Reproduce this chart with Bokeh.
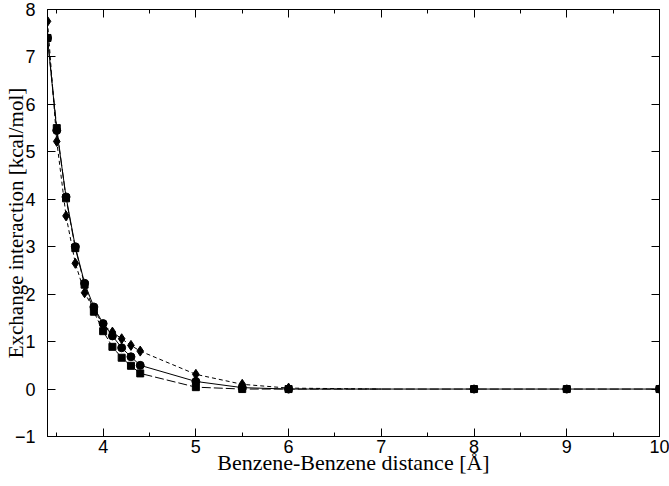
from bokeh.plotting import figure
from bokeh.models import Range1d, LinearAxis, SingleIntervalTicker, CustomJSTickFormatter
from bokeh.embed import file_html
from bokeh.resources import INLINE

# Benzene-Benzene distance [Å]
x_sq = [3.4, 3.5, 3.6, 3.7, 3.8, 3.9, 4.0, 4.1, 4.2, 4.3, 4.4, 5.0, 5.5, 6.0, 8.0, 9.0, 10.0]
y_sq = [7.40, 5.50, 4.02, 2.97, 2.20, 1.63, 1.22, 0.89, 0.66, 0.49, 0.33, 0.04, 0.00, 0.00, 0.00, 0.00, 0.00]

x_ci = [3.4, 3.5, 3.6, 3.7, 3.8, 3.9, 4.0, 4.1, 4.2, 4.3, 4.4, 5.0, 5.5, 6.0, 8.0, 9.0, 10.0]
y_ci = [7.40, 5.45, 4.05, 3.00, 2.23, 1.73, 1.38, 1.12, 0.87, 0.68, 0.50, 0.16, 0.03, 0.00, 0.00, 0.00, 0.00]

x_di = [3.4, 3.5, 3.6, 3.7, 3.8, 3.9, 4.0, 4.1, 4.2, 4.3, 4.4, 5.0, 5.5, 6.0, 7.0]
y_di = [7.75, 5.22, 3.65, 2.65, 2.03, 1.68, 1.35, 1.20, 1.06, 0.92, 0.80, 0.31, 0.10, 0.02, 0.00]

x_label = "Benzene-Benzene distance [Å]"
y_label = "Exchange interaction [kcal/mol]"

p = figure(width=669, height=486, output_backend="svg", toolbar_location=None,
           x_range=Range1d(3.4, 10), y_range=Range1d(-1, 8),
           x_axis_type=None, y_axis_type=None,
           min_border_left=45, min_border_right=10, min_border_top=9, min_border_bottom=50)
p.outline_line_color = "black"
p.outline_line_width = 1
p.background_fill_color = "white"
p.border_fill_color = "white"

def style(ax, ticker, labels=True):
    ax.ticker = ticker
    ax.major_tick_in = 8
    ax.major_tick_out = 0
    ax.minor_tick_in = 4
    ax.minor_tick_out = 0
    ax.axis_line_color = "black"
    ax.major_tick_line_color = "black"
    ax.minor_tick_line_color = "black"
    if labels:
        ax.major_label_text_font = "Liberation Sans"
        ax.major_label_text_font_size = "18px"
        ax.major_label_text_color = "black"
        ax.axis_label_text_font = "Liberation Serif"
        ax.axis_label_text_font_style = "normal"
        ax.axis_label_text_color = "black"
    else:
        ax.formatter = CustomJSTickFormatter(code="return ''")
        ax.major_label_standoff = 0

xb = LinearAxis(axis_label=x_label)
style(xb, SingleIntervalTicker(interval=1, num_minor_ticks=2))
xb.major_label_standoff = 3
xb.axis_label_standoff = -6
xb.axis_label_text_font_size = "22px"
yl = LinearAxis(axis_label=y_label)
style(yl, SingleIntervalTicker(interval=1, num_minor_ticks=0))
yl.minor_tick_in = 0
yl.major_label_standoff = 12
yl.axis_label_standoff = -16
yl.axis_label_text_font_size = "21px"
xt = LinearAxis()
style(xt, SingleIntervalTicker(interval=1, num_minor_ticks=2), labels=False)
yr = LinearAxis()
style(yr, SingleIntervalTicker(interval=1, num_minor_ticks=0), labels=False)
yr.minor_tick_in = 0
p.add_layout(xb, "below")
p.add_layout(yl, "left")
p.add_layout(xt, "above")
p.add_layout(yr, "right")

# diamond series, dashed
p.line(x_di, y_di, line_color="black", line_width=1, line_dash="4 3")
p.scatter(x_di[:-1], y_di[:-1], marker="diamond", size=10, fill_color="black", line_color="black")
# square series, long dash
p.line(x_sq, y_sq, line_color="black", line_width=1, line_dash="9 3")
p.scatter(x_sq, y_sq, marker="square", size=7, fill_color="black", line_color="black")
# circle series, solid
p.line(x_ci, y_ci, line_color="black", line_width=1)
p.scatter(x_ci, y_ci, marker="circle", size=8, fill_color="black", line_color="black")

open("out.html", "w").write(file_html(p, INLINE))
